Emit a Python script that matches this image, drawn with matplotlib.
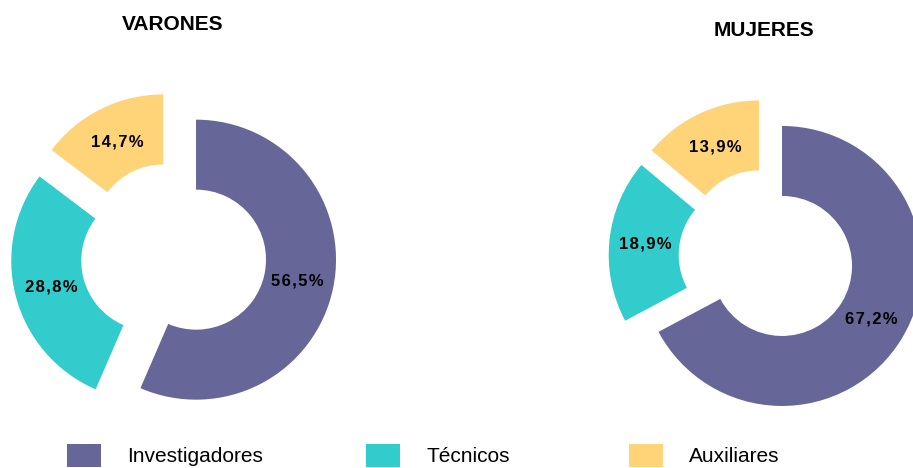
import matplotlib
matplotlib.use('Agg')
import matplotlib.pyplot as plt

categorias = ['Investigadores', 'Técnicos', 'Auxiliares']
varones = [56.5, 28.8, 14.7]
mujeres = [67.2, 18.9, 13.9]
titulos = ['VARONES', 'MUJERES']

colores = ['#666699', '#33CCCC', '#FFD377']

plt.rcParams['font.family'] = ['Liberation Sans', 'DejaVu Sans']

W, H = 913, 468
fig = plt.figure(figsize=(W / 100, H / 100), dpi=100)
ax = fig.add_axes([0, 0, 1, 1])

def etiqueta(p):
    s = '{:.1f}%'.format(p).replace('.', ',')
    # letras algo separadas como en el original
    return '\u200a'.join(s)

# centro, explode (en pixeles), posicion del titulo
config = [
    ((173.5, H - 255), 23, (172.5, H - 24)),
    ((766.6, H - 256.7), 18, (764, H - 30)),
]

wedges_all = []
for datos, titulo, (centro, expl, tpos) in zip([varones, mujeres], titulos, config):
    wedges, textos = ax.pie(datos, colors=colores, startangle=90, counterclock=False,
                            radius=140, center=centro, explode=[expl] * len(datos),
                            autopct=etiqueta, pctdistance=0.74,
                            wedgeprops=dict(width=70, linewidth=0),
                            textprops=dict(fontsize=12, fontweight='bold', color='black'))[:2]
    wedges_all.append(wedges)
    ax.text(tpos[0], tpos[1], titulo, ha='center', va='center',
            fontsize=15, fontweight='bold')

ax.set_xlim(0, W)
ax.set_ylim(0, H)
ax.set_aspect('equal')
ax.axis('off')

# leyenda: una entrada por categoria
x_leyenda = [67, 366, 629]
for w, nombre, xl in zip(wedges_all[0], categorias, x_leyenda):
    fig.legend([w], [nombre], loc='lower left', bbox_to_anchor=(xl / W, 1 / H),
               frameon=False, borderpad=0, borderaxespad=0,
               handlelength=1.63, handleheight=1.35, handletextpad=1.25,
               fontsize=15)

fig.savefig('out.png', dpi=100)
